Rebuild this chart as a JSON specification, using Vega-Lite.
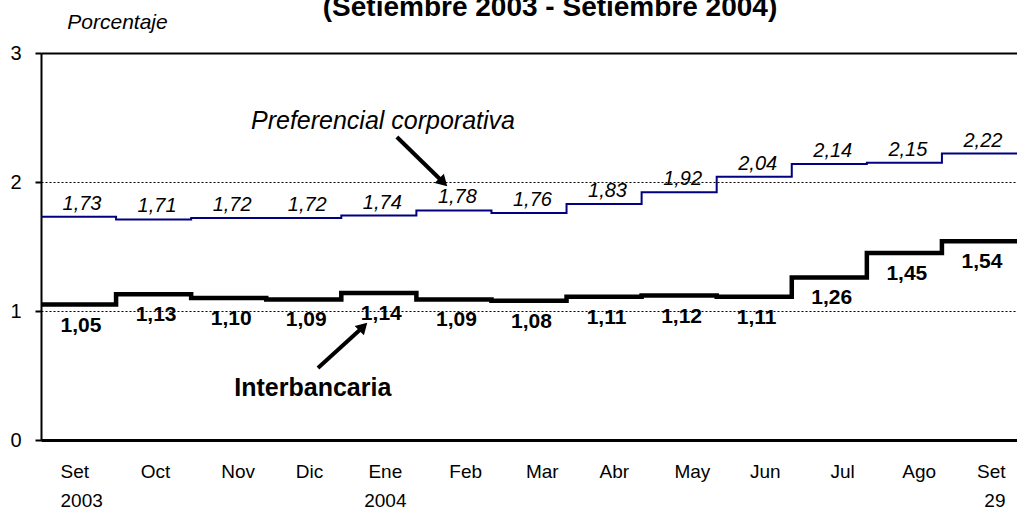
{
  "$schema": "https://vega.github.io/schema/vega-lite/v6.json",
  "width": 976,
  "height": 387,
  "autosize": {"type": "none"},
  "padding": {"left": 41, "top": 53, "right": 0, "bottom": 72},
  "background": "white",
  "title": {
    "text": "(Setiembre 2003 - Setiembre 2004)",
    "font": "Liberation Sans",
    "fontSize": 28,
    "fontWeight": "bold",
    "color": "black",
    "anchor": "middle",
    "frame": "group",
    "dx": 21,
    "offset": 0,
    "dy": 11
  },
  "config": {
    "view": {"stroke": null},
    "font": "Liberation Sans",
    "locale": {
      "number": {"decimal": ",", "thousands": ".", "grouping": [3], "currency": ["", " €"]}
    }
  },
  "datasets": {
    "tasas": [
      {"mes": "Set 2003", "i": 0, "serie": "Preferencial corporativa", "valor": 1.73},
      {"mes": "Oct", "i": 1, "serie": "Preferencial corporativa", "valor": 1.71},
      {"mes": "Nov", "i": 2, "serie": "Preferencial corporativa", "valor": 1.72},
      {"mes": "Dic", "i": 3, "serie": "Preferencial corporativa", "valor": 1.72},
      {"mes": "Ene 2004", "i": 4, "serie": "Preferencial corporativa", "valor": 1.74},
      {"mes": "Feb", "i": 5, "serie": "Preferencial corporativa", "valor": 1.78},
      {"mes": "Mar", "i": 6, "serie": "Preferencial corporativa", "valor": 1.76},
      {"mes": "Abr", "i": 7, "serie": "Preferencial corporativa", "valor": 1.83},
      {"mes": "May", "i": 8, "serie": "Preferencial corporativa", "valor": 1.92},
      {"mes": "Jun", "i": 9, "serie": "Preferencial corporativa", "valor": 2.04},
      {"mes": "Jul", "i": 10, "serie": "Preferencial corporativa", "valor": 2.14},
      {"mes": "Ago", "i": 11, "serie": "Preferencial corporativa", "valor": 2.15},
      {"mes": "Set 29", "i": 12, "serie": "Preferencial corporativa", "valor": 2.22},
      {"mes": "fin", "i": 13, "serie": "Preferencial corporativa", "valor": 2.22},
      {"mes": "Set 2003", "i": 0, "serie": "Interbancaria", "valor": 1.05},
      {"mes": "Oct", "i": 1, "serie": "Interbancaria", "valor": 1.13},
      {"mes": "Nov", "i": 2, "serie": "Interbancaria", "valor": 1.10},
      {"mes": "Dic", "i": 3, "serie": "Interbancaria", "valor": 1.09},
      {"mes": "Ene 2004", "i": 4, "serie": "Interbancaria", "valor": 1.14},
      {"mes": "Feb", "i": 5, "serie": "Interbancaria", "valor": 1.09},
      {"mes": "Mar", "i": 6, "serie": "Interbancaria", "valor": 1.08},
      {"mes": "Abr", "i": 7, "serie": "Interbancaria", "valor": 1.11},
      {"mes": "May", "i": 8, "serie": "Interbancaria", "valor": 1.12},
      {"mes": "Jun", "i": 9, "serie": "Interbancaria", "valor": 1.11},
      {"mes": "Jul", "i": 10, "serie": "Interbancaria", "valor": 1.26},
      {"mes": "Ago", "i": 11, "serie": "Interbancaria", "valor": 1.45},
      {"mes": "Set 29", "i": 12, "serie": "Interbancaria", "valor": 1.54},
      {"mes": "fin", "i": 13, "serie": "Interbancaria", "valor": 1.54}
    ],
    "notas": [
      {"texto": "Preferencial corporativa", "x": 4.555, "y": 2.47, "x1": 4.74, "y1": 2.349, "x2": 5.34, "y2": 2.008},
      {"texto": "Interbancaria", "x": 3.62, "y": 0.40, "x1": 3.689, "y1": 0.558, "x2": 4.275, "y2": 0.868}
    ]
  },
  "layer": [
    {
      "data": {"name": "tasas"},
      "mark": {"type": "line", "interpolate": "step-after"},
      "encoding": {
        "x": {
          "field": "i",
          "type": "quantitative",
          "scale": {"domain": [0, 13], "nice": false, "zero": false},
          "axis": {
            "title": null,
            "values": [0.253, 1.52, 2.62, 3.57, 4.58, 5.65, 6.67, 7.63, 8.67, 9.64, 10.67, 11.69, 12.84],
            "labelExpr": "[['Set','2003'],'Oct','Nov','Dic',['Ene','2004'],'Feb','Mar','Abr','May','Jun','Jul','Ago',['Set','29']][floor(datum.value)]",
            "labelFlush": 20,
            "labelFontSize": 19,
            "labelColor": "black",
            "labelLineHeight": 29,
            "labelPadding": 22,
            "ticks": false,
            "grid": false,
            "domainColor": "black",
            "domainWidth": 3
          }
        },
        "y": {
          "field": "valor",
          "type": "quantitative",
          "scale": {"domain": [0, 3], "nice": false},
          "axis": {
            "values": [0, 1, 2, 3],
            "format": "d",
            "title": "Porcentaje",
            "titleAngle": 0,
            "titleAlign": "center",
            "titleBaseline": "alphabetic",
            "titleX": 76,
            "titleY": -25,
            "titleFontSize": 21,
            "titleFontStyle": "italic",
            "titleFontWeight": "normal",
            "titleColor": "black",
            "labelFontSize": 20,
            "labelColor": "black",
            "labelPadding": 14,
            "tickSize": 6,
            "tickWidth": 2,
            "tickColor": "black",
            "domainColor": "black",
            "domainWidth": 2,
            "grid": true,
            "gridColor": "black",
            "gridOpacity": 1,
            "gridDash": {"condition": {"test": "datum.value === 3", "value": []}, "value": [2, 2]},
            "gridWidth": {"condition": {"test": "datum.value === 3", "value": 2}, "value": 1}
          }
        },
        "color": {
          "field": "serie",
          "type": "nominal",
          "scale": {"domain": ["Preferencial corporativa", "Interbancaria"], "range": ["#000080", "#000000"]},
          "legend": null
        },
        "strokeWidth": {
          "field": "serie",
          "type": "nominal",
          "scale": {"domain": ["Preferencial corporativa", "Interbancaria"], "range": [2, 4.5]},
          "legend": null
        }
      }
    },
    {
      "data": {"name": "tasas"},
      "transform": [{"filter": "datum.serie === 'Preferencial corporativa' && datum.i < 13"}],
      "mark": {"type": "text", "fontSize": 20, "fontStyle": "italic", "color": "black", "dx": 41, "dy": -13, "baseline": "middle"},
      "encoding": {
        "x": {"field": "i", "type": "quantitative"},
        "y": {"field": "valor", "type": "quantitative"},
        "text": {"field": "valor", "type": "quantitative", "format": ".2f"}
      }
    },
    {
      "data": {"name": "tasas"},
      "transform": [{"filter": "datum.serie === 'Interbancaria' && datum.i < 13"}],
      "mark": {"type": "text", "fontSize": 21, "fontWeight": "bold", "color": "black", "dx": 40, "dy": 21, "baseline": "middle"},
      "encoding": {
        "x": {"field": "i", "type": "quantitative"},
        "y": {"field": "valor", "type": "quantitative"},
        "text": {"field": "valor", "type": "quantitative", "format": ".2f"}
      }
    },
    {
      "data": {"name": "notas"},
      "transform": [{"filter": "datum.texto === 'Preferencial corporativa'"}],
      "mark": {"type": "text", "fontSize": 25, "fontStyle": "italic", "color": "black", "baseline": "middle"},
      "encoding": {
        "x": {"field": "x", "type": "quantitative"},
        "y": {"field": "y", "type": "quantitative"},
        "text": {"field": "texto"}
      }
    },
    {
      "data": {"name": "notas"},
      "transform": [{"filter": "datum.texto === 'Interbancaria'"}],
      "mark": {"type": "text", "fontSize": 25, "fontWeight": "bold", "color": "black", "baseline": "middle"},
      "encoding": {
        "x": {"field": "x", "type": "quantitative"},
        "y": {"field": "y", "type": "quantitative"},
        "text": {"field": "texto"}
      }
    },
    {
      "data": {"name": "notas"},
      "mark": {"type": "rule", "color": "black", "strokeWidth": 4},
      "encoding": {
        "x": {"field": "x1", "type": "quantitative"},
        "y": {"field": "y1", "type": "quantitative"},
        "x2": {"field": "x2"},
        "y2": {"field": "y2"}
      }
    },
    {
      "data": {"name": "notas"},
      "transform": [{"filter": "datum.texto === 'Preferencial corporativa'"}],
      "mark": {"type": "point", "shape": "triangle", "filled": true, "color": "black", "opacity": 1, "size": 170, "angle": 135},
      "encoding": {
        "x": {"field": "x2", "type": "quantitative"},
        "y": {"field": "y2", "type": "quantitative"}
      }
    },
    {
      "data": {"name": "notas"},
      "transform": [{"filter": "datum.texto === 'Interbancaria'"}],
      "mark": {"type": "point", "shape": "triangle", "filled": true, "color": "black", "opacity": 1, "size": 170, "angle": 45},
      "encoding": {
        "x": {"field": "x2", "type": "quantitative"},
        "y": {"field": "y2", "type": "quantitative"}
      }
    }
  ]
}
